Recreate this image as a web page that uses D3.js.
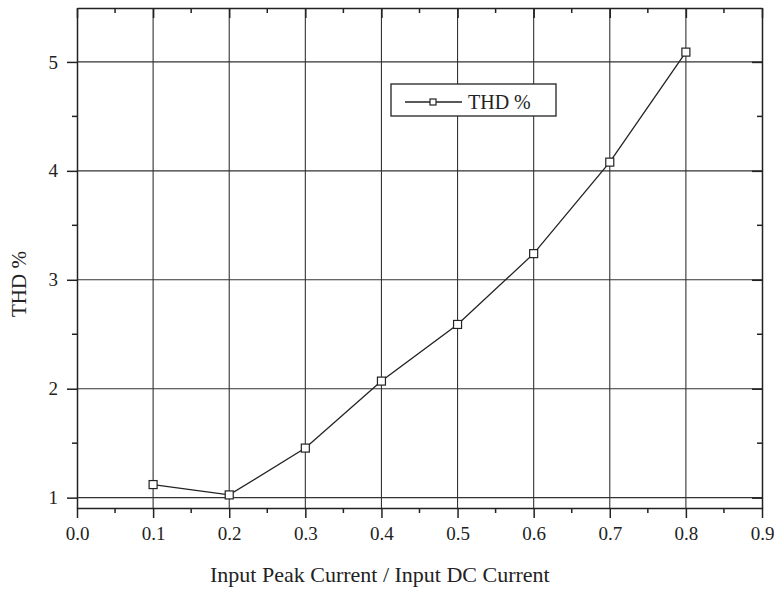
<!DOCTYPE html>
<html>
<head>
<meta charset="utf-8">
<script src="https://cdn.jsdelivr.net/npm/d3@7"></script>
<style>
  body { margin: 0; background: #fff; }
  text { font-family: "Liberation Serif", "DejaVu Serif", serif; fill: #222; }
</style>
</head>
<body>
<div id="container"></div>
<script>
// data
const ratio = [0.1, 0.2, 0.3, 0.4, 0.5, 0.6, 0.7, 0.8];
const thd = [1.12, 1.025, 1.455, 2.07, 2.59, 3.24, 4.08, 5.09];
const xTicks = [0.0, 0.1, 0.2, 0.3, 0.4, 0.5, 0.6, 0.7, 0.8, 0.9];
const yTicks = [1, 2, 3, 4, 5];

const w = 774;
const h = 590;
const margin = { top: 8, right: 12, bottom: 82, left: 77 };

const svg = d3.select("#container")
  .append("svg")
  .attr("width", w)
  .attr("height", h);

const x = d3.scaleLinear().domain([0, 0.9]).range([margin.left, w - margin.right]);
const y = d3.scaleLinear().domain([0.905, 5.495]).range([h - margin.bottom, margin.top]);

const minorX = d3.range(0.05, 0.9, 0.1);
const minorY = d3.range(1.5, 5.5, 1);

//GRID
svg.append("g")
  .selectAll("line")
  .data(xTicks.slice(1, -1))
  .enter()
  .append("line")
  .attr("x1", d => x(d)).attr("x2", d => x(d))
  .attr("y1", y.range()[1]).attr("y2", y.range()[0])
  .attr("stroke", "#333").attr("stroke-width", 1.1);

svg.append("g")
  .selectAll("line")
  .data(yTicks)
  .enter()
  .append("line")
  .attr("x1", x.range()[0]).attr("x2", x.range()[1])
  .attr("y1", d => y(d)).attr("y2", d => y(d))
  .attr("stroke", "#333").attr("stroke-width", 1.1);

//AXES
function styleAxis(g) {
  g.select(".domain").attr("stroke", "#222").attr("stroke-width", 1.5);
  g.selectAll(".tick line").attr("stroke", "#222").attr("stroke-width", 1.5);
  g.selectAll(".tick text").style("font-size", "19px").attr("fill", "#222").attr("font-family", null);
}

function minorTicks(g, values, vertical, len) {
  g.append("g").selectAll("line").data(values).enter().append("line")
    .attr(vertical ? "x1" : "y1", d => vertical ? x(d) : y(d))
    .attr(vertical ? "x2" : "y2", d => vertical ? x(d) : y(d))
    .attr(vertical ? "y1" : "x1", 0)
    .attr(vertical ? "y2" : "x2", len)
    .attr("stroke", "#222").attr("stroke-width", 1.5);
}

const axisBottomG = svg.append("g")
  .attr("transform", `translate(0, ${y.range()[0]})`)
  .call(d3.axisBottom(x).tickValues(xTicks).tickFormat(d3.format(".1f")).tickSizeInner(10).tickSizeOuter(0).tickPadding(9));
styleAxis(axisBottomG);
minorTicks(axisBottomG, minorX, true, 5);

const axisTopG = svg.append("g")
  .attr("transform", `translate(0, ${y.range()[1]})`)
  .call(d3.axisBottom(x).tickValues(xTicks).tickFormat("").tickSizeInner(10).tickSizeOuter(0));
styleAxis(axisTopG);
minorTicks(axisTopG, minorX, true, 5);

const axisLeftG = svg.append("g")
  .attr("transform", `translate(${x.range()[0]}, 0)`)
  .call(d3.axisLeft(y).tickValues(yTicks).tickFormat(d3.format("d")).tickSizeInner(10).tickSizeOuter(0).tickPadding(9));
styleAxis(axisLeftG);
minorTicks(axisLeftG, minorY, false, -5);

const axisRightG = svg.append("g")
  .attr("transform", `translate(${x.range()[1]}, 0)`)
  .call(d3.axisLeft(y).tickValues(yTicks).tickFormat("").tickSizeInner(10).tickSizeOuter(0));
styleAxis(axisRightG);
minorTicks(axisRightG, minorY, false, -5);

//SERIES
const points = ratio.map((r, i) => [r, thd[i]]);
svg.append("path")
  .datum(points)
  .attr("fill", "none")
  .attr("stroke", "#222")
  .attr("stroke-width", 1.3)
  .attr("d", d3.line().x(d => x(d[0])).y(d => y(d[1])));

svg.append("g")
  .selectAll("rect")
  .data(points)
  .enter()
  .append("rect")
  .attr("x", d => x(d[0]) - 4)
  .attr("y", d => y(d[1]) - 4)
  .attr("width", 8)
  .attr("height", 8)
  .attr("fill", "#fff")
  .attr("stroke", "#222")
  .attr("stroke-width", 1.2);

//LEGEND
const legend = svg.append("g").attr("transform", "translate(391, 84)");
legend.append("rect")
  .attr("width", 165).attr("height", 32)
  .attr("fill", "#fff").attr("stroke", "#222").attr("stroke-width", 1.3);
legend.append("line")
  .attr("x1", 14).attr("x2", 71).attr("y1", 18).attr("y2", 18)
  .attr("stroke", "#222").attr("stroke-width", 1.3);
legend.append("rect")
  .attr("x", 39).attr("y", 15).attr("width", 6).attr("height", 6)
  .attr("fill", "#fff").attr("stroke", "#222").attr("stroke-width", 1.2);
legend.append("text")
  .attr("x", 77).attr("y", 25)
  .style("font-size", "20px")
  .text("THD %");

//AXIS TITLES
svg.append("text")
  .attr("x", 210)
  .attr("y", 582)
  .style("font-size", "22px")
  .text("Input Peak Current / Input DC Current");

svg.append("text")
  .attr("transform", `translate(26, 284) rotate(-90)`)
  .attr("text-anchor", "middle")
  .style("font-size", "21px")
  .text("THD %");
</script>
</body>
</html>
